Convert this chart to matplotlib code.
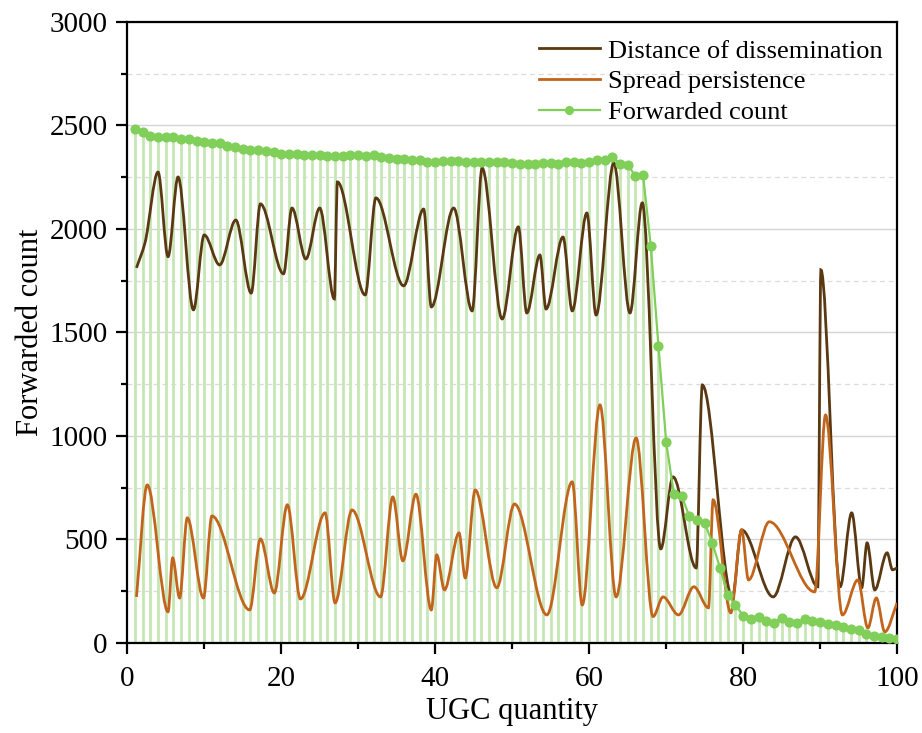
import numpy as np
import matplotlib
matplotlib.use("Agg")
import matplotlib.pyplot as plt
from matplotlib.path import Path
from matplotlib.patches import PathPatch
from matplotlib.lines import Line2D
from matplotlib.ticker import MultipleLocator

plt.rcParams['font.family'] = ['Liberation Serif', 'DejaVu Serif']

# forwarded count, one value per UGC (x = 1..100)
ugc = np.arange(1, 101)
forwarded = [2483, 2468, 2450, 2443, 2443, 2445, 2434, 2435, 2425, 2420,
             2413, 2413, 2401, 2396, 2385, 2381, 2381, 2377, 2372, 2364,
             2364, 2361, 2356, 2356, 2356, 2353, 2353, 2353, 2356, 2359,
             2351, 2356, 2348, 2343, 2340, 2337, 2333, 2333, 2325, 2325,
             2328, 2330, 2328, 2322, 2325, 2325, 2322, 2322, 2322, 2320,
             2314, 2312, 2314, 2317, 2317, 2312, 2322, 2322, 2320, 2325,
             2333, 2333, 2348, 2314, 2309, 2257, 2260, 1918, 1435, 971,
             720, 710, 613, 594, 580, 483, 362, 232, 184, 130,
             116, 125, 106, 96, 121, 101, 97, 116, 106, 101,
             92, 87, 77, 68, 63, 43, 34, 29, 24, 19]

# distance of dissemination
dist_x = [1.2, 2.3, 4.0, 5.3, 6.6, 8.6, 10.0, 12.0, 14.1, 16.1, 17.3, 20.3, 21.4,
          23.2, 25.0, 26.9, 27.3, 30.9, 32.3, 35.9, 38.5, 39.5, 42.4, 44.8, 46.1,
          48.7, 50.8, 51.9, 53.6, 54.4, 56.6, 57.8, 59.7, 60.9, 63.2, 65.3, 66.9,
          69.3, 70.9, 73.9, 74.7, 78.6, 79.8, 83.9, 86.8, 89.7, 90.1, 92.6, 94.1,
          95.4, 96.1, 97.1, 98.7, 99.4, 100.0]
dist_y = [1812, 1932, 2275, 1866, 2251, 1609, 1971, 1826, 2043, 1690, 2121, 1783, 2101,
          1855, 2101, 1662, 2227, 1681, 2150, 1725, 2096, 1623, 2101, 1604, 2294,
          1565, 2010, 1594, 1874, 1613, 1961, 1604, 2077, 1584, 2319, 1594, 2126,
          454, 802, 362, 1246, 220, 546, 222, 512, 271, 1802, 271, 628,
          266, 483, 256, 435, 353, 362]

# spread persistence
pers_x = [1.2, 2.6, 5.3, 5.9, 6.8, 7.8, 9.9, 11.0, 15.9, 17.3, 19.1, 20.8, 22.5,
          25.7, 27.0, 29.2, 32.9, 34.5, 35.8, 37.5, 39.5, 40.2, 41.2, 43.1, 43.9,
          45.2, 48.0, 50.3, 54.5, 57.8, 59.1, 61.4, 63.5, 66.1, 68.3, 69.6, 71.6,
          73.6, 75.5, 76.1, 78.4, 79.8, 80.7, 83.4, 89.3, 90.7, 92.9, 94.9, 96.2,
          97.3, 98.4, 100.0]
pers_y = [222, 763, 150, 410, 217, 604, 217, 613, 159, 502, 241, 667, 212,
          628, 193, 642, 222, 705, 396, 718, 159, 425, 256, 531, 314,
          739, 266, 671, 135, 778, 183, 1150, 222, 990, 127, 222, 135,
          271, 169, 691, 145, 546, 304, 585, 246, 1101, 135, 304, 72,
          217, 53, 193]

c_dist = '#5a3812'
c_pers = '#c2651c'
c_green = '#7fcf58'
c_drop = '#c6e6b5'


def smooth_path(xs, ys):
    # monotone cubic (pchip-style) through the points, drawn as bezier segments
    x = np.asarray(xs, float)
    y = np.asarray(ys, float)
    h = np.diff(x)
    d = np.diff(y) / h
    m = np.zeros_like(x)
    for k in range(1, len(x) - 1):
        if d[k - 1] * d[k] > 0:
            w1 = 2 * h[k] + h[k - 1]
            w2 = h[k] + 2 * h[k - 1]
            m[k] = (w1 + w2) / (w1 / d[k - 1] + w2 / d[k])
    m[0] = d[0]
    m[-1] = d[-1]
    verts = [(x[0], y[0])]
    codes = [Path.MOVETO]
    for k in range(len(x) - 1):
        verts += [(x[k] + h[k] / 3, y[k] + m[k] * h[k] / 3),
                  (x[k + 1] - h[k] / 3, y[k + 1] - m[k + 1] * h[k] / 3),
                  (x[k + 1], y[k + 1])]
        codes += [Path.CURVE4] * 3
    return Path(verts, codes)


fig = plt.figure(figsize=(9.22, 7.33), dpi=100)
ax = fig.add_axes([0.138, 0.123, 0.835, 0.847])

ax.vlines(ugc, 0, forwarded, color=c_drop, lw=2, zorder=1)
ax.plot(ugc, forwarded, color=c_green, lw=1.6, marker='o', ms=6.3, zorder=4)

ax.add_patch(PathPatch(smooth_path(dist_x, dist_y), fill=False, ec=c_dist, lw=2, zorder=3))
ax.add_patch(PathPatch(smooth_path(pers_x, pers_y), fill=False, ec=c_pers, lw=2, zorder=3))

ax.set_xlim(0, 100)
ax.set_ylim(0, 3000)
ax.xaxis.set_major_locator(MultipleLocator(20))
ax.xaxis.set_minor_locator(MultipleLocator(10))
ax.yaxis.set_major_locator(MultipleLocator(500))
ax.yaxis.set_minor_locator(MultipleLocator(250))
ax.set_axisbelow(True)
ax.grid(axis='y', which='major', color='#d4d4d4', lw=1)
ax.grid(axis='y', which='minor', color='#dcdcdc', lw=0.9, ls=(0, (4, 3)))

for s in ax.spines.values():
    s.set_linewidth(1.6)
ax.tick_params(which='major', direction='out', length=8, width=1.6, labelsize=21)
ax.tick_params(which='minor', direction='out', length=4, width=1.6)
ax.tick_params(axis='x', which='major', pad=9)
ax.tick_params(axis='y', which='major', pad=6)

ax.set_xlabel('UGC quantity', fontsize=22, labelpad=3)
ax.set_ylabel('Forwarded count', fontsize=22, labelpad=3)

handles = [Line2D([], [], color=c_dist, lw=2),
           Line2D([], [], color=c_pers, lw=2),
           Line2D([], [], color=c_green, lw=1.6, marker='o', ms=5.5)]
ax.legend(handles, ['Distance of dissemination', 'Spread persistence', 'Forwarded count'],
          loc='upper right', frameon=False, fontsize=19, handlelength=2.3,
          handletextpad=0.3, labelspacing=0.27, borderaxespad=0.25,
          bbox_to_anchor=(1.003, 1.0))

fig.savefig('out.png', dpi=100)
